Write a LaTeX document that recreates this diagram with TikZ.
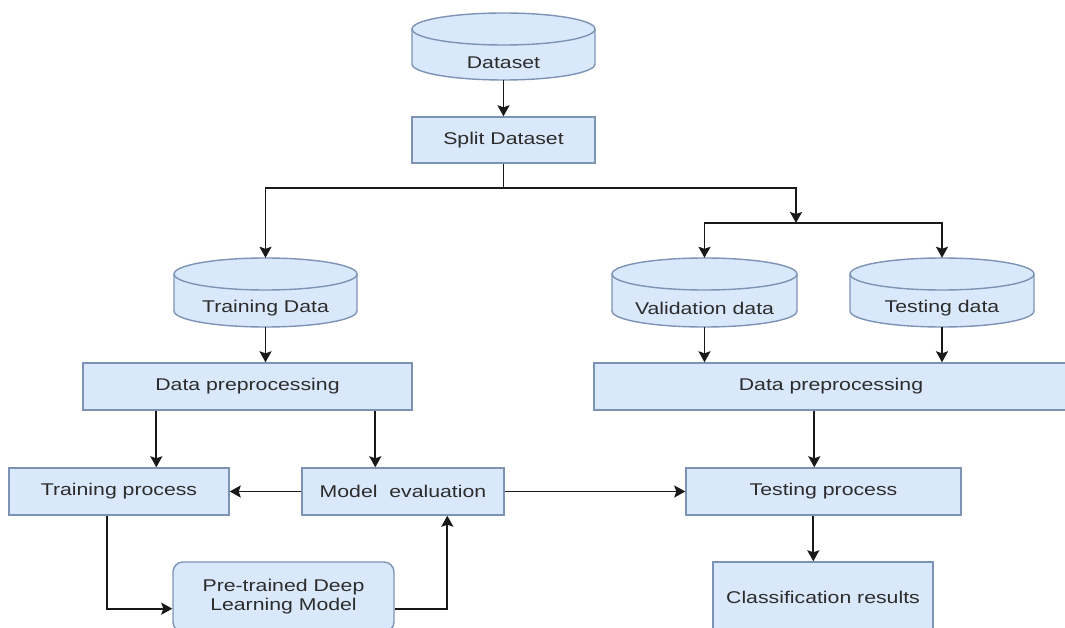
\documentclass[tikz,border=0pt]{standalone}
\usepackage{fontspec}
\setmainfont{Liberation Sans}
\newfontfamily\dfont[FakeStretch=1.25]{Liberation Sans}
\usetikzlibrary{arrows.meta,calc}
\definecolor{boxfill}{HTML}{DAE8FC}
\definecolor{boxline}{HTML}{7D93B5}
\definecolor{txt}{HTML}{2C2C2C}

% database drum: name, centre x, centre y, width, height, label
\newcommand\dbdrum[6]{%
  \node[drumarea, minimum width=#4, minimum height=#5] (#1) at (#2,#3) {};
  \filldraw[drumbody]
    (#2-#4/2, #3-#5/2+16) -- (#2-#4/2, #3+#5/2-16)
    arc[start angle=180, end angle=0, x radius=#4/2, y radius=16]
    -- (#2+#4/2, #3-#5/2+16)
    arc[start angle=0, end angle=-180, x radius=#4/2, y radius=16] -- cycle;
  \draw[drumedge] (#2-#4/2, #3-#5/2+16)
    arc[start angle=180, end angle=0, x radius=#4/2, y radius=16];
  \node[labeltext] (#1-lab) at (#2, #3+16) {#6};
}

\begin{document}
\begin{tikzpicture}[x=1pt, y=-1pt,
  labeltext/.style={text=txt, font=\dfont\fontsize{17}{19}\selectfont, align=center, inner sep=0pt},
  procbox/.style={labeltext, draw=boxline, fill=boxfill, line width=1.4pt},
  roundbox/.style={procbox, rounded corners=10pt},
  drumarea/.style={inner sep=0pt},
  drumbody/.style={draw=boxline, fill=boxfill, line width=1.4pt},
  drumedge/.style={draw=boxline, line width=1.4pt},
  wire/.style={line width=1.8pt, black!90},
  link/.style={wire, -{Stealth[length=11pt, width=12pt, inset=2pt]}}]

\useasboundingbox (0,0) rectangle (1065,628);

% data sources
\dbdrum{dset}{503.5}{46.5}{183}{67}{Dataset}
\dbdrum{train}{265.5}{292.5}{183}{69}{Training Data}
\dbdrum{val}{704.5}{292.5}{185}{69}{Validation data}
\dbdrum{test}{942}{292.5}{184}{69}{Testing data}

% process steps
\node[procbox, minimum width=183, minimum height=46] (split) at (503.5,140) {Split Dataset};
\node[procbox, minimum width=329, minimum height=47] (prepL) at (247.5,386.5) {Data preprocessing};
\node[procbox, minimum width=474, minimum height=47] (prepR) at (831,386.5) {Data preprocessing};
\node[procbox, minimum width=220, minimum height=47] (trainp) at (119,491.5) {Training process};
\node[procbox, minimum width=202, minimum height=47] (meval) at (403,491.5) {Model~~evaluation};
\node[procbox, minimum width=275, minimum height=47] (testp) at (823.5,491.5) {Testing process};
\node[roundbox, minimum width=221, minimum height=70] (pre) at (283.5,597) {Pre-trained Deep\\Learning Model};
\node[procbox, minimum width=220, minimum height=70] (classif) at (823,597) {Classification results};

% connectors
\draw[link] (dset) -- (split);
\draw[wire] (split.south) -- ++(0,24) coordinate (fork);
\draw[link] (fork) -| (train.north);
\coordinate (jn) at (796,223);
\draw[link] (fork) -| (jn);
\draw[link] (jn) -| (val.north);
\draw[link] (jn) -| (test.north);

\draw[link] (train.south) -- (train.south |- prepL.north);
\draw[link] (val.south) -- (val.south |- prepR.north);
\draw[link] (test.south) -- (test.south |- prepR.north);

\draw[link] ($(prepL.south west)+(74,0)$) coordinate (a1) -- (a1 |- trainp.north);
\draw[link] ($(prepL.south west)+(293,0)$) coordinate (a2) -- (a2 |- meval.north);
\draw[link] ($(prepR.south west)+(221,0)$) coordinate (a3) -- (a3 |- testp.north);

\draw[link] (meval) -- (trainp);
\draw[link] (meval) -- (testp);
\draw[link] ($(testp.south west)+(128,0)$) coordinate (a4) -- (a4 |- classif.north);

\draw[link] ($(trainp.south west)+(99,0)$) |- ($(pre.south west)+(0,-24)$);
\draw[link] ($(pre.south east)+(0,-24)$) -| ($(meval.south west)+(146,0)$);
\end{tikzpicture}
\end{document}
